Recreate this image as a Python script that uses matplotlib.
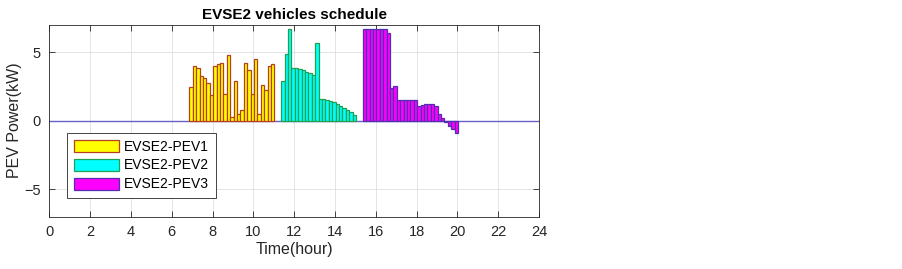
import matplotlib
matplotlib.use("Agg")
import matplotlib.pyplot as plt
import numpy as np

plt.rcParams['font.family'] = ['Liberation Sans', 'DejaVu Sans']

# ---- data (10-minute slots) ----
dt = 1.0 / 6.0
pev1_start = 6.95
pev1 = [2.46, 4.0, 3.85, 3.24, 3.09, 2.77, 1.84, 3.95, 4.1, 4.22, 1.91, 4.76, 0.3,
        2.92, 0.47, 0.79, 4.22, 3.68, 1.91, 4.49, 0.47, 2.6, 2.24, 4.0, 4.1]
pev2_start = 11.45
pev2 = [2.88, 4.88, 6.67, 3.85, 3.85, 3.78, 3.68, 3.58, 3.46, 3.36, 5.63, 1.55,
        1.55, 1.5, 1.47, 1.37, 1.23, 1.1, 0.96, 0.79, 0.64, 0.44]
pev3_start = 15.45
pev3 = [6.67, 6.67, 6.67, 6.67, 6.67, 6.67, 6.67, 6.38, 2.38, 2.55, 1.52, 1.52,
        1.52, 1.52, 1.52, 1.52, 1.08, 1.13, 1.2, 1.25, 1.2, 1.1, 0.5, 0.17,
        -0.12, -0.39, -0.63, -0.93]
labels = ['EVSE2-PEV1', 'EVSE2-PEV2', 'EVSE2-PEV3']
xticks = list(range(0, 25, 2))
yticks = [-5, 0, 5]

faces = ['#FFFF00', '#00FFFF', '#FF00FF']
edges = ['#B5401C', '#20A050', '#5030B0']

fig = plt.figure(figsize=(9.03, 2.69), dpi=100)
ax = fig.add_axes([0.0546, 0.1944, 0.5423, 0.714])

ax.axhline(0, color='#6A60C8', lw=1.0, zorder=1)
series = [(pev1_start, pev1), (pev2_start, pev2), (pev3_start, pev3)]
handles = []
for (st, vals), fc, ec, lab in zip(series, faces, edges, labels):
    x = st + dt * np.arange(len(vals))
    b = ax.bar(x, vals, width=dt, color=fc, edgecolor=ec, linewidth=0.9,
               label=lab, zorder=2)
    handles.append(b)

ax.set_xlim(0, 24)
ax.set_ylim(-7, 7)
ax.set_xticks(xticks)
ax.set_yticks(yticks)
ax.tick_params(direction='in', length=4, width=0.6, top=True, right=True,
               labelsize=10.5, colors='#262626', pad=6)
ax.grid(True, color='#DFDFDF', lw=0.6, zorder=0)
ax.set_axisbelow(True)
for s in ax.spines.values():
    s.set_color('#262626')
    s.set_linewidth(0.6)

ax.set_title('EVSE2 vehicles schedule', fontsize=11, fontweight='bold', pad=4)
ax.set_xlabel('Time(hour)', fontsize=11.5, color='#262626', labelpad=2)
ax.set_ylabel('PEV Power(kW)', fontsize=11.5, color='#262626', labelpad=2)

leg = ax.legend(handles=handles, loc='lower left',
                bbox_to_anchor=(0.037, 0.096), borderaxespad=0,
                fontsize=10, handlelength=3.2, handleheight=0.95,
                handletextpad=0.35, labelspacing=0.35, borderpad=0.5,
                fancybox=False, framealpha=1, edgecolor='#262626')
leg.get_frame().set_linewidth(0.6)
for h in leg.legend_handles:
    h.set_linewidth(0.9)

fig.savefig('out.png', dpi=100)
